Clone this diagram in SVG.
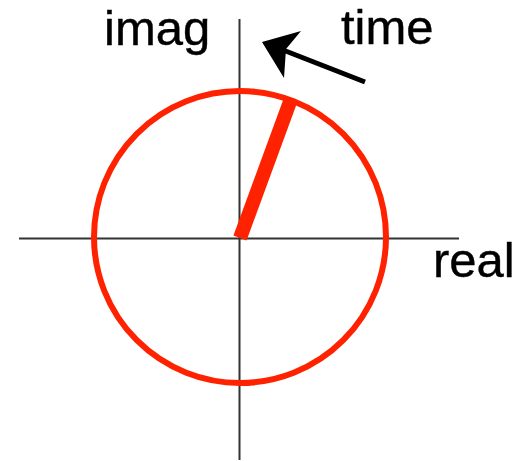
<svg xmlns="http://www.w3.org/2000/svg" width="529" height="461" viewBox="0 0 529 461">
<style>
.axis{stroke:#333;stroke-width:2;fill:none}
.lbl{font-family:"Liberation Sans",Arial,Helvetica,sans-serif;font-size:49px;fill:#000;stroke:#000;stroke-width:0.4}
.red{stroke:#ff2200;fill:none}
</style>
<rect width="529" height="461" fill="#fff"/>
<g id="axes">
<line class="axis" x1="19" y1="238.5" x2="459" y2="238.5"/>
<line class="axis" x1="239.5" y1="19" x2="239.5" y2="460"/>
</g>
<circle id="circle" class="red" cx="240" cy="237" r="146" stroke-width="6"/>
<line id="phasor" class="red" x1="240" y1="238" x2="291" y2="99" stroke-width="14"/>
<g id="time-arrow">
<line x1="365" y1="82" x2="283" y2="50" stroke="#000" stroke-width="5"/>
<polygon points="262,42 301,31 286,49 284,78" fill="#000"/>
</g>
<text class="lbl" x="104" y="45">imag</text>
<text class="lbl" x="341" y="44">time</text>
<text class="lbl" x="433" y="277">real</text>
</svg>
